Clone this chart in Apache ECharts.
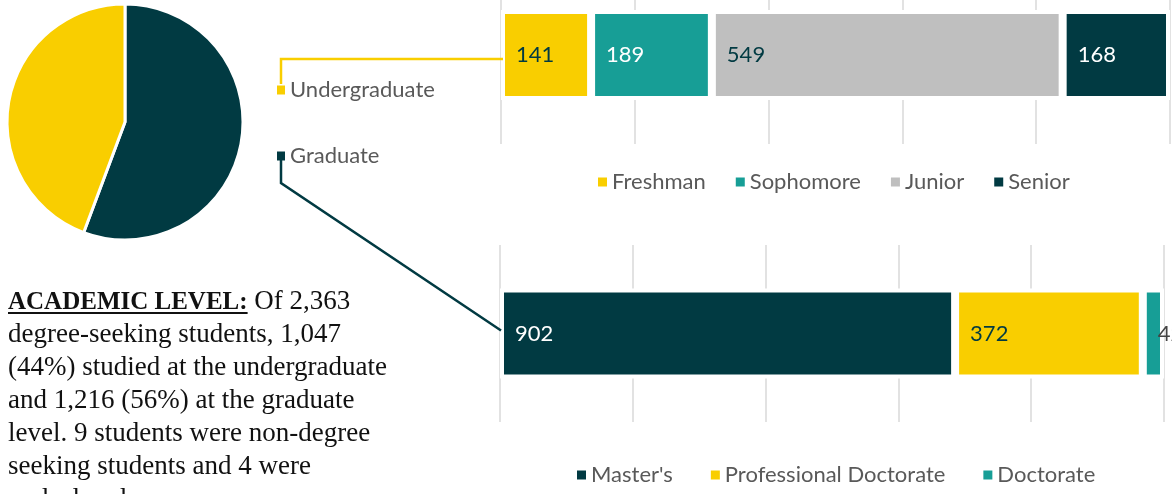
<!DOCTYPE html>
<html>
<head>
<meta charset="utf-8">
<script src="https://cdn.jsdelivr.net/npm/echarts@6/dist/echarts.min.js"></script>
<style>
  html, body { margin: 0; padding: 0; background: #fff; }
  #wrap { position: relative; width: 1172px; height: 494px; overflow: hidden; }
  #chart { position: absolute; left: 0; top: 0; width: 1172px; height: 494px; }
  #note {
    position: absolute; left: 8px; top: 284px;
    font-family: "Liberation Serif", serif; font-size: 27px; line-height: 33px;
    color: #111; white-space: nowrap;
  }
  #note b { font-size: 25px; text-decoration: underline; text-decoration-thickness: 2px; text-underline-offset: 3px; }
</style>
</head>
<body>
<div id="wrap">
  <div id="chart"></div>
  <div id="note">
    <b>ACADEMIC LEVEL:</b> Of 2,363<br>
    degree-seeking students, 1,047<br>
    (44%) studied at the undergraduate<br>
    and 1,216 (56%) at the graduate<br>
    level. 9 students were non-degree<br>
    seeking students and 4 were<br>
    undeclared.
  </div>
</div>
<script>
// data
const levelNames = ['Undergraduate', 'Graduate'];
const levelValues = [1047, 1316];
const classNames = ['Freshman', 'Sophomore', 'Junior', 'Senior'];
const classValues = [141, 189, 549, 168];
const degreeNames = ["Master's", 'Professional Doctorate', 'Doctorate'];
const degreeValues = [902, 372, 42];

const YELLOW = '#f9ce00';
const TEAL = '#179e96';
const GREY = '#bfbfbf';
const DARK = '#013a42';
const FONT = 'Lato';

const levelColors = [YELLOW, DARK];
const classColors = [YELLOW, TEAL, GREY, DARK];
const classLabelColors = [DARK, '#fff', DARK, '#fff'];
const degreeColors = [DARK, YELLOW, TEAL];
const degreeLabelColors = ['#fff', DARK, '#444'];

const sum = arr => arr.reduce((a, b) => a + b, 0);

const chart = echarts.init(document.getElementById('chart'));

function valueAxis(gridIndex, total) {
  return {
    type: 'value',
    gridIndex,
    min: 0,
    max: total,
    interval: total / 5,
    axisLabel: { show: false },
    axisLine: { show: false },
    axisTick: { show: false },
    splitLine: { lineStyle: { color: '#d9d9d9', width: 1.5 } }
  };
}

function barSeries(names, values, colors, labelColors, idx, stack) {
  return names.map((name, i) => ({
    name,
    type: 'bar',
    xAxisIndex: idx,
    yAxisIndex: idx,
    stack,
    barWidth: 90,
    data: [values[i]],
    itemStyle: { color: colors[i], borderColor: '#fff', borderWidth: 4 },
    label: {
      show: true,
      position: 'insideLeft',
      distance: 15,
      color: labelColors[i],
      fontSize: 22,
      fontFamily: FONT
    },
    silent: true
  }));
}

const legendText = { fontSize: 22, color: '#595959', fontFamily: FONT, lineHeight: 20 };

const pieOrder = [1, 0]; // graduate first, clockwise from 12 o'clock

const option = {
  animation: false,
  grid: [
    { left: 501, top: -34, width: 669, height: 178, outerBoundsMode: 'none' },
    { left: 500, top: 245, width: 664, height: 177, outerBoundsMode: 'none' }
  ],
  xAxis: [valueAxis(0, sum(classValues)), valueAxis(1, sum(degreeValues))],
  yAxis: [
    { type: 'category', gridIndex: 0, data: ['Undergraduate'], show: false },
    { type: 'category', gridIndex: 1, data: ['Graduate'], show: false }
  ],
  legend: [
    {
      data: levelNames, orient: 'vertical', left: 277, top: 79, padding: 0,
      icon: 'rect', itemWidth: 8, itemHeight: 9, itemGap: 44,
      itemStyle: { borderWidth: 0 }, textStyle: legendText, selectedMode: false
    },
    {
      data: classNames, left: 598, top: 171, padding: 0,
      icon: 'rect', itemWidth: 9, itemHeight: 9, itemGap: 30,
      itemStyle: { borderWidth: 0 }, textStyle: legendText, selectedMode: false
    },
    {
      data: degreeNames, left: 577, top: 464, padding: 0,
      icon: 'rect', itemWidth: 9, itemHeight: 9, itemGap: 38,
      itemStyle: { borderWidth: 0 }, textStyle: legendText, selectedMode: false
    }
  ],
  series: [
    {
      type: 'pie',
      center: [125, 122],
      radius: 118,
      startAngle: 90,
      clockwise: true,
      label: { show: false },
      labelLine: { show: false },
      silent: true,
      itemStyle: { borderColor: '#fff', borderWidth: 3 },
      data: pieOrder.map(i => ({
        name: levelNames[i],
        value: levelValues[i],
        itemStyle: { color: levelColors[i] }
      }))
    },
    ...barSeries(classNames, classValues, classColors, classLabelColors, 0, 'ug'),
    ...barSeries(degreeNames, degreeValues, degreeColors, degreeLabelColors, 1, 'gr')
  ]
};

chart.setOption(option);

// connector lines from the pie legend to the bar starts
const ugStart = chart.convertToPixel({ gridIndex: 0 }, [0, 'Undergraduate']);
const grStart = chart.convertToPixel({ gridIndex: 1 }, [0, 'Graduate']);
chart.setOption({
  graphic: [
    {
      type: 'polyline', silent: true, z: 10,
      shape: { points: [[281, 84], [281, ugStart[1] + 4], [ugStart[0] + 2, ugStart[1] + 4]] },
      style: { fill: null, stroke: YELLOW, lineWidth: 2.5 }
    },
    {
      type: 'polyline', silent: true, z: 10,
      shape: { points: [[281, 155], [281, 183], [grStart[0] + 1, grStart[1] - 3]] },
      style: { fill: null, stroke: DARK, lineWidth: 2.5 }
    }
  ]
});

window.addEventListener('resize', () => chart.resize());
</script>
</body>
</html>
